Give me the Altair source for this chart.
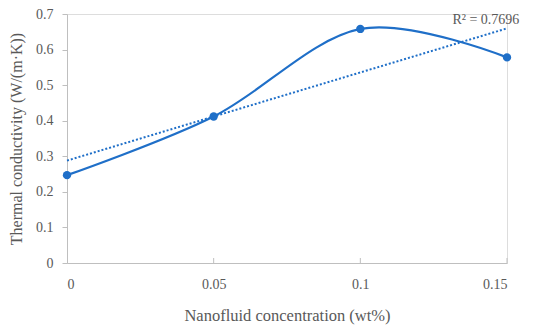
import altair as alt
import pandas as pd

conc = [0.0, 0.05, 0.10, 0.15]
conductivity = [0.247, 0.412, 0.658, 0.578]
x_tick_values = [0, 0.05, 0.10, 0.15]
y_tick_values = [0, 0.1, 0.2, 0.3, 0.4, 0.5, 0.6, 0.7]
x_inner_ticks = [0.05, 0.10, 0.15]
r2_label = "R² = 0.7696"

df = pd.DataFrame({"conc": conc, "k": conductivity})
ticks_df = pd.DataFrame({"t": x_inner_ticks})
label_df = pd.DataFrame({"conc": [0.1428], "k": [0.684], "txt": [r2_label]})

BLUE = "#1f6fc8"
GRAY = "#bfbfbf"
TXT = "#595959"
FONT = "Liberation Serif"

xs = alt.Scale(domain=[0, 0.15], nice=False)
ys = alt.Scale(domain=[0, 0.7], nice=False)

x_axis = alt.Axis(title="Nanofluid concentration (wt%)", values=x_tick_values,
                  format=".2~f", grid=False, ticks=False, domainColor=GRAY,
                  labelOverlap=False,
                  labelColor=TXT, labelFont=FONT, labelFontSize=14, labelPadding=14,
                  titleColor=TXT, titleFont=FONT, titleFontSize=16.5, titleFontWeight="normal",
                  titlePadding=16)
y_axis = alt.Axis(title="Thermal conductivity (W/(m·K))", values=y_tick_values,
                  format=".1~f", grid=False, tickColor=GRAY, tickSize=5, domainColor=GRAY,
                  labelOverlap=False,
                  labelColor=TXT, labelFont=FONT, labelFontSize=14, labelPadding=9,
                  titleColor=TXT, titleFont=FONT, titleFontSize=16, titleFontWeight="normal",
                  titlePadding=11)

X = alt.X("conc:Q", scale=xs, axis=x_axis)
Y = alt.Y("k:Q", scale=ys, axis=y_axis)

base = alt.Chart(df)

line = base.mark_line(interpolate="cardinal", color=BLUE, strokeWidth=2.2).encode(x=X, y=Y)

pts = base.mark_circle(color=BLUE, size=70, opacity=1).encode(x=X, y=Y)

trend = base.transform_regression("conc", "k", extent=[0, 0.15]).mark_line(
    color=BLUE, strokeWidth=2, strokeDash=[2, 2]).encode(x=X, y=Y)

xticks = alt.Chart(ticks_df).mark_rule(color=GRAY, strokeWidth=1).encode(
    x=alt.X("t:Q", scale=xs, axis=x_axis), y=alt.value(244), y2=alt.value(249))

label = alt.Chart(label_df).mark_text(font=FONT, fontSize=14, color=TXT, align="center",
                                      baseline="middle").encode(
    x=X, y=Y, text="txt:N")

chart = alt.layer(line, trend, pts, xticks, label).properties(
    width=440, height=249,
    autosize=alt.AutoSizeParams(type="none"),
    padding={"left": 59, "top": 6, "right": 20, "bottom": 70},
).configure_view(strokeWidth=0).configure(background="white")

chart.save("out.html", embed_options={"renderer": "svg", "actions": False})
